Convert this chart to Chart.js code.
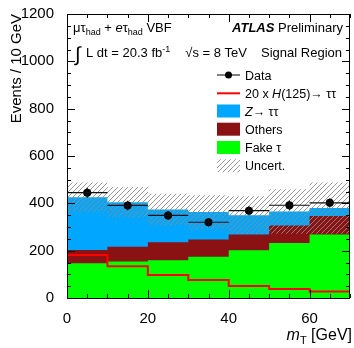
<!DOCTYPE html>
<html lang="en">
<head>
<meta charset="UTF-8">
<title>mT - VBF signal region</title>
<script src="https://cdn.jsdelivr.net/npm/chart.js"></script>
<style>
  html, body { margin: 0; padding: 0; background: #fff; }
</style>
</head>
<body>
<canvas id="mtChart" width="354" height="348"></canvas>
<script>
  // histogram bins (GeV)
  const binEdges = [0, 10, 20, 30, 40, 50, 60, 70];
  const xTicks = [0, 20, 40, 60];
  const yTicks = [0, 200, 400, 600, 800, 1000, 1200];

  // backgrounds, events / 10 GeV
  const fakeTau = [147, 154, 159, 174, 202, 232, 268];
  const others  = [56, 63, 77, 73, 66, 74, 78];
  const zTauTau = [223, 188, 138, 116, 82, 60, 34];
  const uncert  = [62, 64, 67, 71, 80, 94, 108];

  // 20 x H(125) -> tautau
  const signal20 = [182, 134, 97, 76, 51, 38, 27];

  // data
  const dataVals = [445, 391, 349, 320, 369, 392, 402];
  const dataErr  = [21, 20, 19, 18, 19, 20, 20];

  const FONT = '"Liberation Sans", Arial, Helvetica, sans-serif';

  // step points: value of bin i runs from edge i to edge i+1
  function steps(vals) {
    return binEdges.map((x, i) => ({ x: x, y: vals[Math.min(i, vals.length - 1)] }));
  }
  const cumOthers = fakeTau.map((v, i) => v + others[i]);
  const total = cumOthers.map((v, i) => v + zTauTau[i]);
  const bandLo = total.map((v, i) => v - uncert[i]);
  const bandHi = total.map((v, i) => v + uncert[i]);
  const dataPts = dataVals.map((v, i) => ({ x: (binEdges[i] + binEdges[i + 1]) / 2, y: v }));

  // hatch pattern for the uncertainty band
  function makeHatch() {
    const c = document.createElement('canvas');
    c.width = 5; c.height = 5;
    const g = c.getContext('2d');
    g.strokeStyle = '#8c8c8c';
    g.lineWidth = 0.9;
    g.beginPath();
    g.moveTo(-1, 6); g.lineTo(6, -1);
    g.moveTo(-1, 1); g.lineTo(1, -1);
    g.moveTo(4, 6); g.lineTo(6, 4);
    g.stroke();
    return g.createPattern(c, 'repeat');
  }
  const hatch = makeHatch();

  function rich(ctx, parts, x, y, align) {
    let w = 0;
    parts.forEach(p => { ctx.font = p[1]; w += ctx.measureText(p[0]).width; });
    let cx = align === 'right' ? x - w : x;
    parts.forEach(p => {
      ctx.font = p[1];
      ctx.fillText(p[0], cx, y + (p[2] || 0));
      cx += ctx.measureText(p[0]).width;
    });
  }

  const decor = {
    id: 'decor',
    afterDatasetsDraw(chart) {
      const ctx = chart.ctx;
      const xs = chart.scales.x, ys = chart.scales.y;
      const a = chart.chartArea;
      ctx.save();
      // data error bars
      ctx.strokeStyle = '#111';
      ctx.lineWidth = 1.2;
      dataVals.forEach((v, i) => {
        const py = ys.getPixelForValue(v);
        ctx.beginPath();
        ctx.moveTo(xs.getPixelForValue(binEdges[i]), py);
        ctx.lineTo(xs.getPixelForValue(binEdges[i + 1]), py);
        ctx.moveTo(xs.getPixelForValue(dataPts[i].x), ys.getPixelForValue(v - dataErr[i]));
        ctx.lineTo(xs.getPixelForValue(dataPts[i].x), ys.getPixelForValue(v + dataErr[i]));
        ctx.stroke();
      });
      // frame and inward ticks
      ctx.strokeStyle = '#000';
      ctx.lineWidth = 1;
      ctx.strokeRect(a.left + 0.5, a.top + 0.5, a.right - a.left - 1, a.bottom - a.top);
      ctx.beginPath();
      for (let v = 0; v <= 70; v += 5) {
        const px = Math.round(xs.getPixelForValue(v)) + 0.5;
        const L = v % 20 === 0 ? 8 : 4;
        ctx.moveTo(px, a.bottom); ctx.lineTo(px, a.bottom - L);
        ctx.moveTo(px, a.top); ctx.lineTo(px, a.top + L);
      }
      for (let v = 0; v <= 1200; v += 50) {
        const py = Math.round(ys.getPixelForValue(v)) + 0.5;
        const L = v % 200 === 0 ? 8 : 4;
        ctx.moveTo(a.left, py); ctx.lineTo(a.left + L, py);
        ctx.moveTo(a.right, py); ctx.lineTo(a.right - L, py);
      }
      ctx.stroke();
      ctx.restore();
    },
    afterDraw(chart) {
      const ctx = chart.ctx;
      ctx.save();
      ctx.fillStyle = '#000';
      ctx.textBaseline = 'alphabetic';
      // header lines
      rich(ctx, [['\u03bc\u03c4', '13px ' + FONT], ['had', '9px ' + FONT, 3], [' + ', '13px ' + FONT],
                 ['e', 'italic 13px ' + FONT], ['\u03c4', '13px ' + FONT], ['had', '9px ' + FONT, 3],
                 [' VBF', '13px ' + FONT]], 73, 32);
      rich(ctx, [['ATLAS', 'italic bold 13px ' + FONT], [' Preliminary', '13px ' + FONT]], 343, 32, 'right');
      rich(ctx, [['\u222b', '20px ' + FONT]], 75, 61);
      rich(ctx, [['L dt = 20.3 fb', '13px ' + FONT], ['-1', '9px ' + FONT, -5]], 86, 57);
      rich(ctx, [['\u221as = 8 TeV', '13px ' + FONT]], 247, 57, 'right');
      rich(ctx, [['Signal Region', '13px ' + FONT]], 342, 57, 'right');

      // legend
      const lx = 217, lw = 23, tx = 245;
      const rows = [75, 93.3, 111, 129.2, 147.5, 165.7];
      ctx.strokeStyle = '#000'; ctx.lineWidth = 1;
      ctx.beginPath(); ctx.moveTo(lx, rows[0]); ctx.lineTo(lx + lw, rows[0]); ctx.stroke();
      ctx.beginPath(); ctx.arc(lx + lw / 2, rows[0], 3.5, 0, Math.PI * 2); ctx.fill();
      ctx.strokeStyle = '#ff0000'; ctx.lineWidth = 2;
      ctx.beginPath(); ctx.moveTo(lx, rows[1]); ctx.lineTo(lx + lw, rows[1]); ctx.stroke();
      [['#00a6ff', rows[2]], ['#8a1212', rows[3]], ['#00ff00', rows[4]], [hatch, rows[5]]].forEach(b => {
        ctx.fillStyle = b[0];
        ctx.fillRect(lx, b[1] - 6.5, lw, 13);
      });
      ctx.fillStyle = '#000';
      const LF = '12.5px ' + FONT, LI = 'italic 12.5px ' + FONT;
      rich(ctx, [['Data', LF]], tx, rows[0] + 4.5);
      rich(ctx, [['20 x ', LF], ['H', LI], ['(125)\u2192 \u03c4\u03c4', LF]], tx, rows[1] + 4.5);
      rich(ctx, [['Z', LI], ['\u2192 \u03c4\u03c4', LF]], tx, rows[2] + 4.5);
      rich(ctx, [['Others', LF]], tx, rows[3] + 4.5);
      rich(ctx, [['Fake \u03c4', LF]], tx, rows[4] + 4.5);
      rich(ctx, [['Uncert.', LF]], tx, rows[5] + 4.5);

      // axis titles
      rich(ctx, [['m', 'italic 16px ' + FONT], ['T', '11px ' + FONT, 4], [' [GeV]', '16px ' + FONT]], 352, 340, 'right');
      ctx.translate(21, 14);
      ctx.rotate(-Math.PI / 2);
      rich(ctx, [['Events / 10 GeV', '15px ' + FONT]], 0, 0, 'right');
      ctx.restore();
    }
  };

  const stepLine = (vals, color, fill) => ({
    data: steps(vals),
    stepped: true,
    pointRadius: 0,
    borderWidth: 0,
    borderColor: 'rgba(0,0,0,0)',
    backgroundColor: color,
    fill: fill
  });

  new Chart(document.getElementById('mtChart'), {
    type: 'line',
    data: {
      datasets: [
        {
          label: 'Data',
          data: dataPts,
          showLine: false,
          pointRadius: 4,
          pointBorderWidth: 0,
          pointBackgroundColor: '#000'
        },
        {
          label: '20 x H(125)',
          data: steps(signal20),
          stepped: true,
          pointRadius: 0,
          borderColor: '#ff0000',
          borderWidth: 2,
          fill: false
        },
        Object.assign(stepLine(bandHi, hatch, '+1'), { label: 'Uncert.' }),
        Object.assign(stepLine(bandLo, 'rgba(0,0,0,0)', false), { label: 'lo' }),
        Object.assign(stepLine(fakeTau, '#00ff00', 'origin'), { label: 'Fake tau' }),
        Object.assign(stepLine(cumOthers, '#8a1212', 'origin'), { label: 'Others' }),
        Object.assign(stepLine(total, '#00a6ff', 'origin'), { label: 'Z->tautau' })
      ]
    },
    options: {
      responsive: false,
      animation: false,
      layout: { padding: { top: 14, right: 1, left: 0, bottom: 0 } },
      plugins: { legend: { display: false }, tooltip: { enabled: false } },
      scales: {
        x: {
          type: 'linear', min: 0, max: 70,
          afterBuildTicks: s => { s.ticks = xTicks.map(v => ({ value: v })); },
          ticks: { font: { family: FONT, size: 15 }, color: '#000', padding: 4, maxRotation: 0,
                   callback: v => String(v) },
          grid: { display: false },
          border: { display: false },
          afterFit: s => { s.height = 50; }
        },
        y: {
          type: 'linear', min: 0, max: 1200,
          afterBuildTicks: s => { s.ticks = yTicks.map(v => ({ value: v })); },
          ticks: { font: { family: FONT, size: 15 }, color: '#000', padding: 5,
                   callback: v => String(v) },
          grid: { display: false },
          border: { display: false },
          afterFit: s => { s.width = 67; }
        }
      }
    },
    plugins: [decor]
  });
</script>
</body>
</html>
